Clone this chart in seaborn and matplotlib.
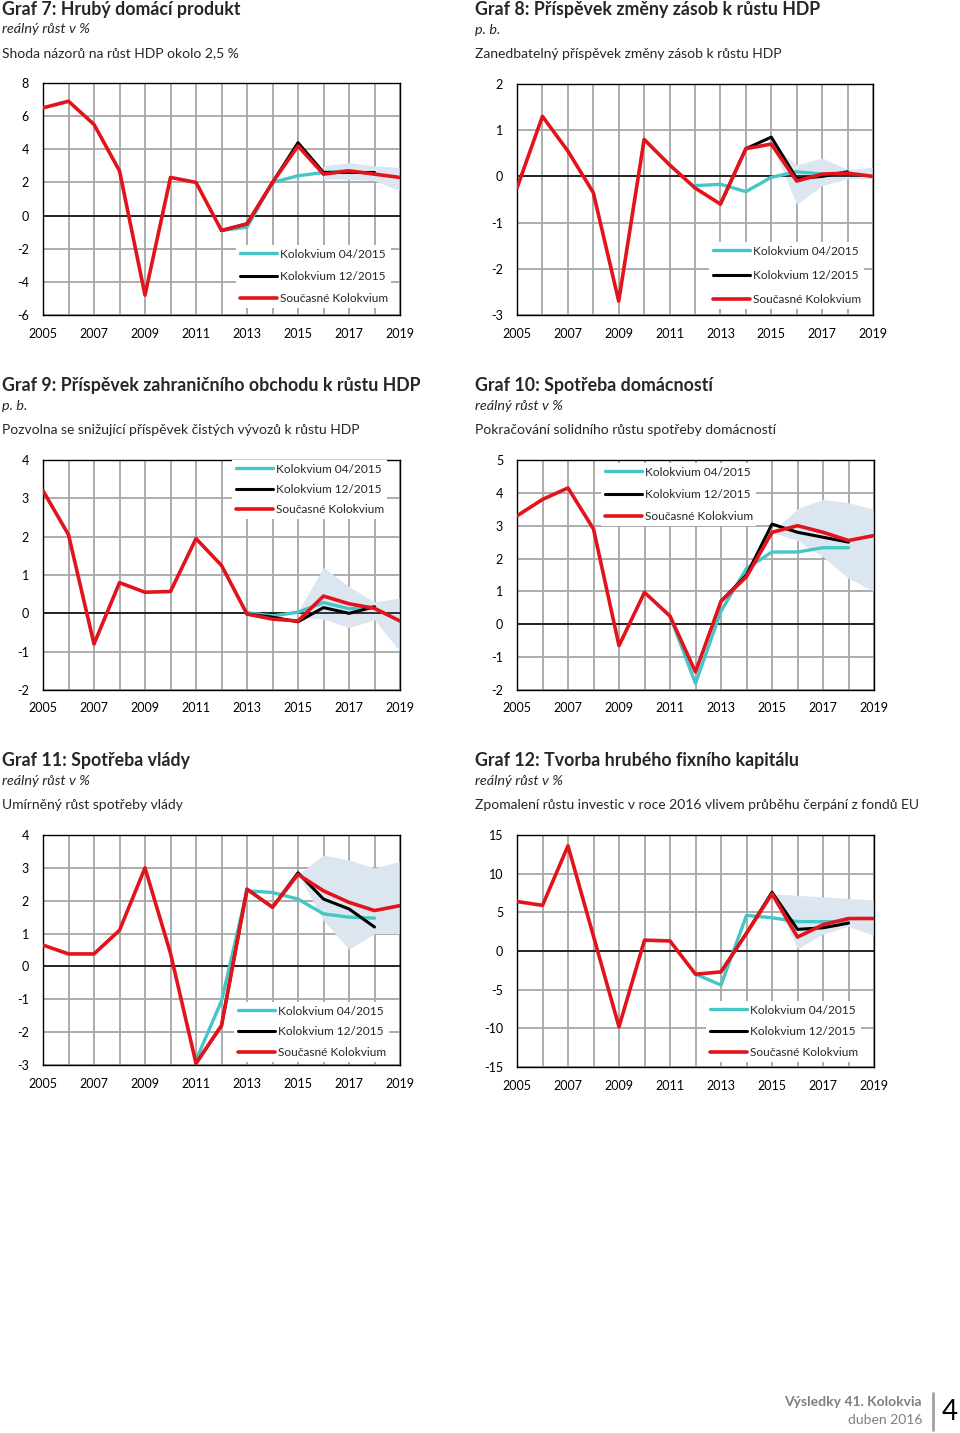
import matplotlib
matplotlib.use("Agg")
import matplotlib.pyplot as plt
import seaborn as sns

# Roky na ose x
roky = list(range(2005, 2020))
roky_popisky = [str(r) if r % 2 == 1 else "" for r in roky]

# Graf 7: Hrubý domácí produkt
g7_soucasne = [6.5, 6.9, 5.5, 2.7, -4.8, 2.3, 2.0, -0.9, -0.5, 2.0, 4.2, 2.5, 2.7, 2.5, 2.3]
g7_k12_roky = list(range(2012, 2019))
g7_k12 = [-0.9, -0.5, 2.0, 4.4, 2.6, 2.6, 2.6]
g7_k04_roky = list(range(2012, 2018))
g7_k04 = [-0.9, -0.7, 2.0, 2.4, 2.6, 2.7]
g7_pas_roky = list(range(2016, 2020))
g7_pas_lo = [2.2, 2.2, 2.1, 1.5]
g7_pas_hi = [3.0, 3.2, 3.0, 2.9]

# Graf 8: Příspěvek změny zásob
g8_soucasne = [-0.25, 1.3, 0.55, -0.35, -2.7, 0.8, 0.25, -0.25, -0.6, 0.6, 0.7, -0.1, 0.05, 0.07, 0.0]
g8_k12_roky = list(range(2013, 2019))
g8_k12 = [-0.6, 0.6, 0.85, -0.05, 0.0, 0.1]
g8_k04_roky = list(range(2012, 2018))
g8_k04 = [-0.2, -0.17, -0.33, -0.02, 0.1, 0.05]
g8_pas_roky = list(range(2015, 2020))
g8_pas_lo = [0.7, -0.6, -0.2, -0.05, -0.05]
g8_pas_hi = [0.7, 0.25, 0.4, 0.15, 0.2]

# Graf 9: Příspěvek zahraničního obchodu
g9_soucasne = [3.2, 2.05, -0.8, 0.8, 0.55, 0.57, 1.95, 1.25, -0.02, -0.15, -0.2, 0.45, 0.25, 0.13, -0.2]
g9_k12_roky = list(range(2013, 2019))
g9_k12 = [-0.02, -0.1, -0.22, 0.15, 0.0, 0.17]
g9_k04_roky = list(range(2013, 2019))
g9_k04 = [0.02, -0.07, 0.03, 0.28, 0.12, 0.17]
g9_pas_roky = list(range(2015, 2020))
g9_pas_lo = [-0.1, -0.15, -0.37, -0.17, -1.0]
g9_pas_hi = [0.05, 1.2, 0.7, 0.3, 0.4]

# Graf 10: Spotřeba domácností
g10_soucasne = [3.3, 3.8, 4.15, 2.9, -0.65, 0.97, 0.25, -1.45, 0.7, 1.45, 2.8, 3.0, 2.8, 2.55, 2.7]
g10_k12_roky = list(range(2013, 2019))
g10_k12 = [0.7, 1.5, 3.05, 2.8, 2.65, 2.5]
g10_k04_roky = list(range(2011, 2019))
g10_k04 = [0.25, -1.8, 0.4, 1.7, 2.2, 2.2, 2.33, 2.33]
g10_pas_roky = list(range(2015, 2020))
g10_pas_lo = [2.8, 2.55, 2.05, 1.4, 1.0]
g10_pas_hi = [2.8, 3.52, 3.8, 3.7, 3.5]

# Graf 11: Spotřeba vlády
g11_soucasne = [0.65, 0.38, 0.38, 1.1, 3.0, 0.4, -2.95, -1.8, 2.35, 1.8, 2.8, 2.3, 1.95, 1.7, 1.85]
g11_k12_roky = list(range(2011, 2019))
g11_k12 = [-2.95, -1.8, 2.35, 1.8, 2.85, 2.05, 1.75, 1.2]
g11_k04_roky = list(range(2011, 2019))
g11_k04 = [-2.85, -1.05, 2.3, 2.25, 2.05, 1.6, 1.5, 1.47]
g11_pas_roky = list(range(2015, 2020))
g11_pas_lo = [2.8, 1.4, 0.52, 1.0, 1.0]
g11_pas_hi = [2.8, 3.39, 3.24, 3.0, 3.2]

# Graf 12: Tvorba hrubého fixního kapitálu
g12_soucasne = [6.4, 5.9, 13.6, 1.9, -9.8, 1.4, 1.3, -3.0, -2.7, 2.3, 7.4, 1.8, 3.4, 4.2, 4.2]
g12_k12_roky = list(range(2013, 2019))
g12_k12 = [-2.7, 2.3, 7.6, 2.8, 3.0, 3.6]
g12_k04_roky = list(range(2012, 2019))
g12_k04 = [-3.0, -4.4, 4.6, 4.3, 3.8, 3.8, 3.8]
g12_pas_roky = list(range(2015, 2020))
g12_pas_lo = [7.4, 0.3, 2.2, 3.2, 2.0]
g12_pas_hi = [7.4, 7.2, 7.0, 6.8, 6.6]

# Barvy
CERVENA = "#e3131b"
CERNA = "#000000"
TYRKYS = "#45c6c6"
PAS = "#dce6f0"
MRIZKA = "#a6a6a6"
SEDA = "#7f7f7f"

W, H = 960, 1433
LEG_FS = 8.6


def fx(x):
    return x / W


def fy(y):
    return 1 - y / H


grafy = [
    dict(titul="Graf 7: Hrubý domácí produkt", jednotka="reálný růst v %",
         popis="Shoda názorů na růst HDP okolo 2,5 %",
         box=(43, 83, 400, 315), ylim=(-6, 8), krok=2,
         soucasne=g7_soucasne, k12=(g7_k12_roky, g7_k12), k04=(g7_k04_roky, g7_k04),
         pas=(g7_pas_roky, g7_pas_lo, g7_pas_hi), leg=(240, 255, 22)),
    dict(titul="Graf 8: Příspěvek změny zásob k růstu HDP", jednotka="p. b.",
         popis="Zanedbatelný příspěvek změny zásob k růstu HDP",
         box=(517, 84, 873, 315), ylim=(-3, 2), krok=1,
         soucasne=g8_soucasne, k12=(g8_k12_roky, g8_k12), k04=(g8_k04_roky, g8_k04),
         pas=(g8_pas_roky, g8_pas_lo, g8_pas_hi), leg=(713, 252, 24)),
    dict(titul="Graf 9: Příspěvek zahraničního obchodu k růstu HDP", jednotka="p. b.",
         popis="Pozvolna se snižující příspěvek čistých vývozů k růstu HDP",
         box=(43, 460, 400, 690), ylim=(-2, 4), krok=1,
         soucasne=g9_soucasne, k12=(g9_k12_roky, g9_k12), k04=(g9_k04_roky, g9_k04),
         pas=(g9_pas_roky, g9_pas_lo, g9_pas_hi), leg=(236, 470, 20)),
    dict(titul="Graf 10: Spotřeba domácností", jednotka="reálný růst v %",
         popis="Pokračování solidního růstu spotřeby domácností",
         box=(517, 460, 874, 690), ylim=(-2, 5), krok=1,
         soucasne=g10_soucasne, k12=(g10_k12_roky, g10_k12), k04=(g10_k04_roky, g10_k04),
         pas=(g10_pas_roky, g10_pas_lo, g10_pas_hi), leg=(605, 473, 22)),
    dict(titul="Graf 11: Spotřeba vlády", jednotka="reálný růst v %",
         popis="Umírněný růst spotřeby vlády",
         box=(43, 835, 400, 1065), ylim=(-3, 4), krok=1,
         soucasne=g11_soucasne, k12=(g11_k12_roky, g11_k12), k04=(g11_k04_roky, g11_k04),
         pas=(g11_pas_roky, g11_pas_lo, g11_pas_hi), leg=(238, 1012, 20.5)),
    dict(titul="Graf 12: Tvorba hrubého fixního kapitálu", jednotka="reálný růst v %",
         popis="Zpomalení růstu investic v roce 2016 vlivem průběhu čerpání z fondů EU",
         box=(517, 835, 874, 1067), ylim=(-15, 15), krok=5,
         soucasne=g12_soucasne, k12=(g12_k12_roky, g12_k12), k04=(g12_k04_roky, g12_k04),
         pas=(g12_pas_roky, g12_pas_lo, g12_pas_hi), leg=(710, 1011, 21)),
]

sns.set_style("white")
plt.rcParams["font.family"] = ["Lato", "DejaVu Sans"]
plt.rcParams["axes.unicode_minus"] = False

fig = plt.figure(figsize=(W / 100, H / 100), dpi=100)
fs_px = LEG_FS * 100 / 72

for g in grafy:
    l, t, r, b = g["box"]
    ax = fig.add_axes([fx(l), fy(b), (r - l) / W, (b - t) / H])

    # pás nejistoty
    pr, plo, phi = g["pas"]
    ax.fill_between(pr, plo, phi, color=PAS, linewidth=0, zorder=1.5)

    sns.lineplot(x=g["k04"][0], y=g["k04"][1], ax=ax, color=TYRKYS, linewidth=2.4,
                 label="Kolokvium 04/2015", zorder=3)
    sns.lineplot(x=g["k12"][0], y=g["k12"][1], ax=ax, color=CERNA, linewidth=2.2,
                 label="Kolokvium 12/2015", zorder=4)
    sns.lineplot(x=roky, y=g["soucasne"], ax=ax, color=CERVENA, linewidth=2.6,
                 label="Současné Kolokvium", zorder=5)
    ax.axhline(0, color="black", linewidth=1.1, zorder=2)

    lo, hi = g["ylim"]
    ax.set_xlim(2005, 2019)
    ax.set_ylim(lo, hi)
    ax.set_xticks(roky)
    ax.set_xticklabels(roky_popisky)
    ax.set_yticks(range(lo, hi + 1, g["krok"]))
    ax.grid(True, color=MRIZKA, linewidth=1.3, zorder=0)
    ax.set_axisbelow(True)
    ax.tick_params(length=0, labelsize=9, colors="black")
    ax.tick_params(axis="x", pad=9)
    ax.tick_params(axis="y", pad=10)
    ax.set_xlabel("")
    ax.set_ylabel("")
    for s in ax.spines.values():
        s.set_visible(True)
        s.set_color("black")
        s.set_linewidth(1.0)

    hx, hy, krok_leg = g["leg"]
    ax.legend(loc="upper left", bbox_to_anchor=(fx(hx - 4), fy(hy - 10)),
              bbox_transform=fig.transFigure, fontsize=LEG_FS, frameon=True,
              facecolor="white", edgecolor="none", framealpha=1, fancybox=False,
              borderpad=0.3, borderaxespad=0, handlelength=3.1, handletextpad=0.25,
              labelspacing=(krok_leg - 10.6) / fs_px)

    # titulky nad grafem
    x0 = 2 if l < 300 else 475
    fig.text(fx(x0), fy(t - 74), g["titul"], fontsize=12.8, fontweight="bold",
             va="center", ha="left")
    fig.text(fx(x0), fy(t - 54), g["jednotka"], fontsize=10.4, style="italic",
             va="center", ha="left")
    fig.text(fx(x0), fy(t - 30), g["popis"], fontsize=10, va="center", ha="left")

# patička
fig.text(fx(922), fy(1402), "Výsledky 41. Kolokvia", fontsize=10, fontweight="bold",
         color=SEDA, ha="right", va="center")
fig.text(fx(922), fy(1420), "duben 2016", fontsize=10, color=SEDA, ha="right", va="center")
fig.add_artist(plt.Line2D([fx(933), fx(933)], [fy(1393), fy(1430)], color="#a0a0a0",
                          linewidth=2, transform=fig.transFigure))
fig.text(fx(950), fy(1412), "4", fontsize=20, color="black", ha="center", va="center")

fig.savefig("out.png", dpi=100)
